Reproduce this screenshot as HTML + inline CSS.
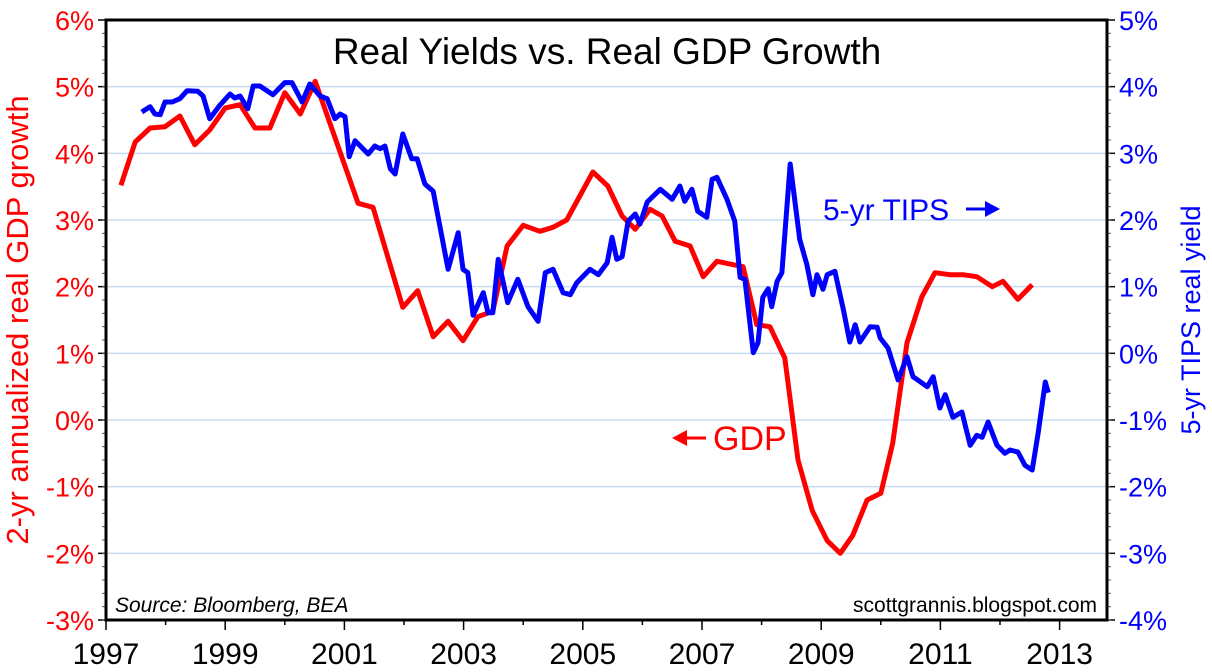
<!DOCTYPE html>
<html><head><meta charset="utf-8">
<style>
html,body{margin:0;padding:0;background:#fff;}
svg{display:block;font-family:"Liberation Sans",sans-serif;}
</style></head>
<body>
<svg id="chart" width="1212" height="672" viewBox="0 0 1212 672">
  <g id="grid"></g>
  <g id="series"></g>
  <g id="axes"></g>
  <text x="607" y="64" text-anchor="middle" font-size="37" fill="#000">Real Yields vs. Real GDP Growth</text>
  <text transform="translate(28,320) rotate(-90)" text-anchor="middle" font-size="31" fill="#f00">2-yr annualized real GDP growth</text>
  <text transform="translate(1200,320) rotate(-90)" text-anchor="middle" font-size="27" fill="#00f">5-yr TIPS real yield</text>
  <g>
    <text x="823" y="220" font-size="30" fill="#00f">5-yr TIPS</text>
    <line x1="966" y1="209" x2="988" y2="209" stroke="#00f" stroke-width="3"/>
    <polygon points="985,201 1000,209 985,217" fill="#00f"/>
  </g>
  <g>
    <polygon points="672,438 687,430 687,446" fill="#f00"/>
    <line x1="685" y1="438" x2="706" y2="438" stroke="#f00" stroke-width="3"/>
    <text x="713" y="450" font-size="34" fill="#f00">GDP</text>
  </g>
  <text x="115" y="612" font-size="21" font-style="italic" fill="#000">Source: Bloomberg, BEA</text>
  <text x="1097" y="612" font-size="21" text-anchor="end" fill="#000">scottgrannis.blogspot.com</text>
</svg>
<script>
const gdpYears = [1997.25,1997.49,1997.74,1997.99,1998.24,1998.49,1998.74,1999.00,1999.25,1999.50,1999.75,2000.00,2000.26,2000.51,2001.23,2001.48,2001.98,2002.23,2002.49,2002.74,2002.99,2003.24,2003.49,2003.73,2004.00,2004.28,2004.50,2004.73,2005.17,2005.42,2005.66,2005.88,2006.13,2006.33,2006.55,2006.80,2007.02,2007.25,2007.69,2007.92,2008.14,2008.39,2008.61,2008.85,2009.10,2009.32,2009.53,2009.77,2010.00,2010.20,2010.44,2010.69,2010.91,2011.16,2011.38,2011.61,2011.87,2012.05,2012.30,2012.54];
const gdpValues = [3.52,4.17,4.38,4.40,4.56,4.13,4.35,4.68,4.73,4.38,4.38,4.91,4.59,5.08,3.25,3.19,1.69,1.94,1.25,1.48,1.19,1.55,1.63,2.61,2.92,2.83,2.89,3.00,3.72,3.51,3.06,2.86,3.16,3.06,2.68,2.61,2.15,2.38,2.30,1.43,1.40,0.93,-0.60,-1.36,-1.81,-2.00,-1.73,-1.20,-1.10,-0.35,1.16,1.85,2.21,2.18,2.18,2.15,2.00,2.08,1.81,2.03];
const tipsYears = [1997.60,1997.74,1997.82,1997.91,1997.99,1998.11,1998.24,1998.36,1998.54,1998.63,1998.74,1998.91,1999.08,1999.16,1999.25,1999.38,1999.47,1999.58,1999.80,2000.00,2000.12,2000.29,2000.42,2000.59,2000.71,2000.84,2000.93,2001.01,2001.08,2001.18,2001.40,2001.51,2001.60,2001.68,2001.77,2001.85,2001.98,2002.13,2002.22,2002.35,2002.49,2002.74,2002.91,2002.99,2003.07,2003.16,2003.33,2003.41,2003.49,2003.58,2003.74,2003.91,2004.08,2004.25,2004.37,2004.50,2004.67,2004.79,2004.90,2005.12,2005.26,2005.41,2005.49,2005.57,2005.66,2005.76,2005.88,2005.96,2006.08,2006.30,2006.50,2006.63,2006.71,2006.83,2006.93,2007.08,2007.17,2007.25,2007.42,2007.55,2007.64,2007.72,2007.86,2007.94,2008.02,2008.11,2008.17,2008.26,2008.34,2008.48,2008.64,2008.76,2008.86,2008.93,2009.03,2009.10,2009.23,2009.37,2009.48,2009.57,2009.65,2009.82,2009.94,2009.99,2010.12,2010.29,2010.44,2010.54,2010.78,2010.88,2010.99,2011.08,2011.21,2011.36,2011.50,2011.61,2011.70,2011.80,2011.95,2012.08,2012.17,2012.30,2012.42,2012.54,2012.64,2012.76,2012.81];
const tipsValues = [3.62,3.70,3.59,3.58,3.77,3.77,3.82,3.94,3.93,3.86,3.52,3.72,3.89,3.83,3.86,3.67,4.01,4.01,3.88,4.06,4.06,3.77,4.04,3.86,3.82,3.52,3.59,3.55,2.95,3.19,2.99,3.11,3.07,3.11,2.77,2.69,3.29,2.92,2.92,2.54,2.43,1.26,1.81,1.26,1.21,0.57,0.91,0.61,0.61,1.41,0.76,1.11,0.70,0.48,1.21,1.26,0.91,0.88,1.06,1.26,1.18,1.36,1.74,1.41,1.45,1.98,2.09,1.94,2.27,2.46,2.31,2.51,2.28,2.46,2.13,2.04,2.61,2.64,2.31,1.98,1.14,1.11,0.01,0.16,0.84,0.97,0.70,1.08,1.21,2.84,1.71,1.33,0.88,1.18,0.96,1.18,1.23,0.66,0.17,0.43,0.17,0.40,0.39,0.23,0.08,-0.40,-0.05,-0.35,-0.50,-0.35,-0.82,-0.62,-0.96,-0.88,-1.38,-1.23,-1.26,-1.03,-1.38,-1.50,-1.45,-1.48,-1.68,-1.75,-1.20,-0.43,-0.59];
const leftTicks = [6,5,4,3,2,1,0,-1,-2,-3];
const rightTicks = [5,4,3,2,1,0,-1,-2,-3,-4];
const yearLabels = [1997,1999,2001,2003,2005,2007,2009,2011,2013];

const NS = "http://www.w3.org/2000/svg";
const X0 = 106, X1 = 1107, Y0 = 20, Y1 = 620;
const xs = y => X0 + (y - 1997) * 59.6;
const yl = v => 420 - v * 66.67;
const yr = v => 420 - (v + 1) * 66.67;
function mk(tag, attrs, parent) {
  const e = document.createElementNS(NS, tag);
  for (const k in attrs) e.setAttribute(k, attrs[k]);
  parent.appendChild(e);
  return e;
}
const grid = document.getElementById('grid');
const axes = document.getElementById('axes');
const series = document.getElementById('series');

leftTicks.forEach(v => {
  const y = yl(v);
  if (v < 6 && v > -3) {
    const g = mk('line', {x1: X0, x2: X1, y1: y, y2: y, stroke: '#c6ddf3', 'stroke-width': 1.5}, grid);
    
    
  }
  mk('line', {x1: X0 - 8, x2: X0, y1: y, y2: y, stroke: '#000', 'stroke-width': 1.5}, axes);
  const t = mk('text', {x: X0 - 12, y: y + 10, 'text-anchor': 'end', 'font-size': 27, fill: '#f00'}, axes);
  t.textContent = v + '%';
  
  
});
rightTicks.forEach(v => {
  const y = yr(v);
  mk('line', {x1: X1, x2: X1 + 8, y1: y, y2: y, stroke: '#000', 'stroke-width': 1.5}, axes);
  const t = mk('text', {x: X1 + 12, y: y + 10, 'font-size': 27, fill: '#00f'}, axes);
  t.textContent = v + '%';
  
  
});
for (let v = -3; v < 6; v += 0.2) {
  const y = yl(v);
  mk('line', {x1: X0 - 4, x2: X0, y1: y, y2: y, stroke: '#555', 'stroke-width': 1}, axes);
  mk('line', {x1: X1, x2: X1 + 4, y1: y, y2: y, stroke: '#555', 'stroke-width': 1}, axes);
}
for (let yv = 1997; yv <= 2013; yv++) {
  const x = xs(yv);
  mk('line', {x1: x, x2: x, y1: Y1, y2: Y1 + (yv % 2 ? 10 : 5), stroke: '#000', 'stroke-width': 1.5}, axes);
}
yearLabels.forEach(yv => {
  const t = mk('text', {x: xs(yv), y: 664, 'text-anchor': 'middle', 'font-size': 30, fill: '#000'}, axes);
  t.textContent = yv;
  
  
});
const frame = mk('rect', {x: X0, y: Y0, width: X1 - X0, height: Y1 - Y0, fill: 'none', stroke: '#000', 'stroke-width': 3}, axes);



const gdpPts = gdpYears.map((y, i) => xs(y).toFixed(1) + ',' + yl(gdpValues[i]).toFixed(1)).join(' ');
const gl = mk('polyline', {points: gdpPts, fill: 'none', stroke: '#f00', 'stroke-width': 5, 'stroke-linejoin': 'round'}, series);


const tipsPts = tipsYears.map((y, i) => xs(y).toFixed(1) + ',' + yr(tipsValues[i]).toFixed(1)).join(' ');
const tl = mk('polyline', {points: tipsPts, fill: 'none', stroke: '#00f', 'stroke-width': 5, 'stroke-linejoin': 'round'}, series);


</script>
</body></html>
